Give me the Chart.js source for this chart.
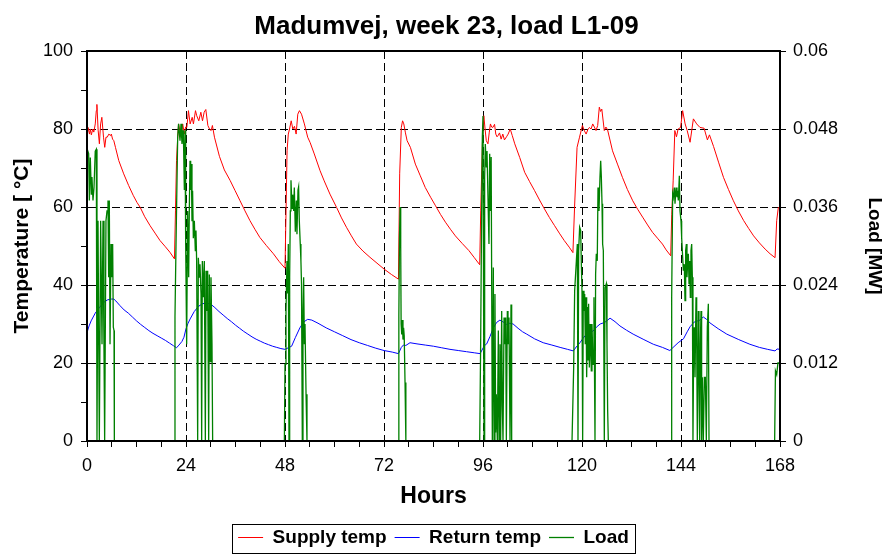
<!DOCTYPE html>
<html>
<head>
<meta charset="utf-8">
<script src="https://cdn.jsdelivr.net/npm/chart.js@4.4.1/dist/chart.umd.min.js"></script>
<style>
  body { margin: 0; background: #fff; }
  #wrap { width: 893px; height: 557px; }
</style>
</head>
<body>
<div id="wrap"><canvas id="chart"></canvas></div>
<script>
// supply temperature (hours, degC)
const supplyHours = [
  0, 0.25, 0.6, 0.8, 1.05, 1.4, 1.65, 2.0, 2.25, 2.4, 2.7, 3.0, 3.3, 3.6, 4.0, 4.3, 4.6, 4.9, 5.3, 5.7, 5.9, 6.2, 6.5, 6.9, 7.7, 8.9, 10.1, 11.2, 12.1, 12.9, 14, 15.3, 16.5, 17.7, 19, 20.1, 21.2,
  21.45, 21.7, 22.0, 22.2, 22.5, 22.8, 23.2, 23.6, 23.9, 24.2, 24.6, 25.0, 25.5, 25.8, 26.3, 26.6, 27.1, 27.6, 28.0, 28.4, 28.8, 29.3, 29.7, 30.1, 30.4, 30.9, 32.1, 33.3, 34.7, 35.9, 37.1, 38.3, 39.5, 40.7, 41.9, 43.5, 45.2, 46.6, 48.0,
  48.25, 48.5, 48.8, 49.1, 49.5, 49.9, 50.3, 50.7, 51.1, 51.5, 52.0, 52.7, 53.5, 54.1, 55.1, 56.5, 57.5, 58.9, 60.5, 61.7, 62.9, 64.1, 65.3, 66.9, 68.6, 70.3, 72.0, 73.8, 75.5,
  75.8, 76.2, 76.5, 76.8, 77.2, 77.6, 78.4, 79.6, 80.8, 82.0, 83.3, 84.5, 85.7, 86.9, 88.1, 89.3, 91.0, 92.6, 93.9, 95.2,
  95.45, 95.85, 96.2, 96.5, 96.8, 97.2, 97.5, 97.8, 98.1, 98.4, 98.8, 99.1, 99.4, 99.7, 100.0, 100.4, 100.8, 101.2, 101.7, 102.1, 102.6, 103.1, 103.7, 104.9, 106.1, 107.3, 108.5, 109.7, 110.9, 112.1, 113.3, 114.5, 115.7, 116.9, 117.8,
  118.2, 118.8, 119.4, 120.1, 120.6, 121.0, 121.4, 121.8, 122.2, 122.6, 123.0, 123.4, 123.8, 124.2, 124.5, 124.8, 125.4, 125.8, 126.2, 127.4, 128.6, 129.8, 131.0, 132.3, 133.5, 134.7, 135.9, 137.1, 138.3, 139.5, 140.4, 141.5,
  141.75, 142.1, 142.5, 142.9, 143.3, 143.9, 144.4, 145.0, 145.5, 146.2, 147.0, 147.8, 148.6, 149.6, 150.4, 150.9, 151.9, 153.1, 154.3, 155.5, 156.7, 157.9, 159.2, 160.4, 161.6, 163, 164.4, 165.6, 166.8, 167.2, 167.6, 168
];
const supplyTemp = [
  77.9, 80.4, 78.7, 80, 78.5, 80, 79.2, 81.3, 84.7, 86.3, 79.7, 76.2, 81.3, 83, 77.9, 75.3, 77.9, 77.9, 78.7, 78.3, 78.7, 77.4, 77, 75.3, 71.9, 68.5, 65.5, 63, 61.2, 59.9, 57.5, 55.2, 53.3, 51.4, 49.8, 48.4, 46.7,
  59, 71.9, 78, 81.3, 79.5, 77.9, 81.3, 78.7, 80.5, 80.4, 84.7, 81.3, 83, 81.3, 84.7, 83.4, 82.1, 84.3, 82.1, 84.3, 85, 80.9, 80, 79.6, 80.9, 77.9, 73, 69.5, 66.8, 64.2, 61.6, 59, 56.5, 54.3, 52.2, 50.1, 48, 46, 44.3,
  59, 74.4, 78.7, 80, 82.1, 80, 80.7, 78.7, 83.8, 84.7, 83.8, 81.3, 77.9, 76.5, 73.6, 69.3, 66.7, 63.3, 59.9, 57.2, 54.8, 52.6, 50.5, 48.7, 47.1, 45.6, 44.1, 42.7, 41.5,
  68.5, 80.4, 82.1, 81.3, 79, 77, 75.3, 71, 68, 65, 62.5, 60.3, 58.1, 56.1, 54.3, 52.6, 50.6, 48.8, 47, 45.2,
  59, 76.2, 83.4, 80, 77, 76.2, 79, 81.3, 80.5, 80.4, 81.2, 78.7, 78, 78.4, 79, 77.4, 78.7, 77.2, 78, 78.7, 80, 78.3, 76.2, 72.7, 68.9, 66.5, 64.2, 61.8, 59.5, 57.3, 55.3, 53.3, 51.4, 49.7, 48.3,
  60, 75.3, 77.9, 80.9, 79.5, 78.7, 79.8, 80.4, 80, 81.3, 80.5, 79.6, 80.9, 85.6, 84.5, 85.1, 79.6, 80.5, 79.8, 74.4, 71, 67.6, 64.5, 61.6, 59.4, 57.4, 55.4, 53.5, 52, 50.5, 49, 47.5,
  58, 66.7, 79.6, 78, 80, 80.4, 84.7, 81.3, 79.6, 76.6, 82.6, 81.3, 80.4, 80.2, 77.2, 78.5, 75.5, 71.5, 67.6, 64.5, 61.6, 59, 56.5, 54.5, 52.6, 50.8, 49.2, 48, 47, 56.5, 59.9, 59.5
];

// return temperature, blue curve (hours, degC)
const returnHours = [
  0, 0.5, 1, 1.5, 2, 3, 4, 5, 6, 6.5, 7, 8, 9, 10, 11, 12, 13, 14, 15, 16, 17, 18, 19, 20, 21, 21.7, 22.3, 23, 23.5,
  24, 24.5, 25, 26, 27, 28, 29, 30, 31, 32, 33, 34, 35, 36, 37, 38, 39, 40, 41, 42, 43, 44, 45, 46, 47, 48,
  49, 49.6, 50.5, 51.6, 52.5, 53.5, 54.5, 56, 58, 60, 62, 64, 66, 68, 70, 72, 74, 75.5,
  76.2, 76.7, 77.3, 78.3, 80, 82, 84, 86, 88, 90, 92, 94, 95.3,
  96.3, 96.9, 97.7, 98.5, 99.3, 100.1, 100.9, 101.7, 102.5, 103.3, 104.5, 105.6, 106.6, 108.5, 110.6, 112.7, 114.7, 116.5, 117.9,
  118.6, 119.5, 120.3, 121.1, 122.7, 123.5, 124.4, 125.5, 126.8, 128, 129.2, 130.8, 132.4, 135, 137.3, 139.5, 141.3,
  142.3, 143.3, 144.6, 145.5, 146.2, 147.2, 148.6, 149.4, 150.2, 151, 153, 155.1, 158, 160.7, 163, 165, 166.8, 167.3, 168
];
const returnTemp = [
  27.8, 29.5, 30.8, 31.8, 32.8, 34.2, 35.5, 36.2, 36.4, 36.4, 35.9, 34.7, 33.6, 32.8, 31.8, 30.8, 29.9, 29.1, 28.3, 27.6, 27, 26.4, 25.8, 25.1, 24.4, 23.9, 24.6, 25.5, 26.6,
  28.8, 30.2, 31.3, 33.2, 34.5, 35.2, 35.4, 35.1, 34.2, 33.2, 32.3, 31.4, 30.6, 29.7, 28.9, 28.1, 27.4, 26.7, 26.1, 25.6, 25.1, 24.7, 24.3, 24, 23.7, 23.5,
  24, 24.3, 26.5, 29, 30.5, 31.2, 31, 30.2, 29, 28, 27, 26, 25.2, 24.5, 23.8, 23.2, 22.8, 22.4,
  24, 24.6, 24.5, 25.2, 24.9, 24.6, 24.3, 23.9, 23.5, 23.2, 22.9, 22.6, 22.4,
  24.4, 24.9, 26.8, 29, 30.4, 31, 30.5, 29.9, 30.2, 30, 28.9, 28, 27.4, 26.2, 25.2, 24.6, 24, 23.5, 23.1,
  24.1, 25.2, 26.4, 27.4, 28.2, 29.2, 30, 30.4, 31.5, 30.6, 29.5, 28.4, 27.4, 26, 24.8, 24, 23.2,
  24.2, 25.2, 26.2, 28, 29.3, 30.5, 31, 31.8, 31.2, 30.3, 28.8, 27.4, 26, 24.8, 24, 23.5, 23.1, 23.6, 23.5
];

// load, green curve (hours, MW) - right axis
const loadHours = [
  0, 0.4, 0.57, 0.8, 1.05, 1.2, 1.45, 1.7, 2.0, 2.26, 2.42, 2.67, 2.99, 3.31, 3.64, 3.88, 4.12, 4.28, 4.6, 4.85, 5.09, 5.25, 5.41, 5.58, 5.82, 6.06, 6.22, 6.38, 6.55, 6.63,
  21.17, 21.33, 21.58, 21.98, 22.2, 22.55, 22.79, 23.03, 23.35, 23.6, 23.76, 23.92, 24.16, 24.4, 24.65, 24.8, 24.97, 25.13, 25.29, 25.45, 25.6, 25.78, 26.02, 26.26, 26.42, 26.58, 26.83, 26.99, 27.23, 27.39, 27.64, 27.8, 27.96, 28.2, 28.44, 28.69, 28.85, 29.09, 29.25, 29.5, 29.66, 29.9, 30.06, 30.3, 30.46,
  47.85, 48.0, 48.24, 48.48, 48.65, 48.8, 48.97, 49.13, 49.29, 49.45, 49.7, 49.86, 50.1, 50.26, 50.5, 50.75, 50.9, 51.15, 51.3, 51.47, 51.7, 51.86, 52.0, 52.2, 52.36, 52.52, 52.7, 52.85, 53.1, 53.33,
  75.4, 75.6, 75.75, 75.9, 76.05, 76.15, 76.3, 76.45, 76.6, 76.75, 76.9, 77.1, 77.3,
  95.2, 95.43, 95.67, 95.84, 96.0, 96.25, 96.4, 96.56, 96.8, 96.97, 97.21, 97.45, 97.62, 97.82, 97.98, 98.26, 98.5, 98.67, 98.9, 99.07, 99.23, 99.47, 99.72, 99.88, 100.12, 100.28, 100.53, 100.69, 100.85, 101.1, 101.33, 101.5, 101.66, 101.9, 102.06, 102.3, 102.55, 102.79, 102.95,
  117.58, 117.98, 118.22, 118.63, 118.87, 119.03, 119.19, 119.43, 119.68, 119.84, 120.0, 120.16, 120.32, 120.48, 120.65, 120.8, 120.97, 121.13, 121.3, 121.45, 121.6, 121.78, 121.94, 122.1, 122.26, 122.42, 122.67, 122.9, 123.15, 123.3, 123.47, 123.7, 123.88, 124.12, 124.36, 124.53, 124.69, 124.85, 125.0, 125.17, 125.41, 125.58, 125.9, 126.06, 126.22, 126.38,
  141.58, 141.74, 141.98, 142.14, 142.38, 142.55, 142.79, 143.03, 143.19, 143.35, 143.6, 143.76, 144.0, 144.16, 144.32, 144.57, 144.8, 144.97, 145.13, 145.3, 145.45, 145.6, 145.78, 145.94, 146.1, 146.26, 146.42, 146.59, 146.75, 146.9, 147.07, 147.23, 147.4, 147.64, 147.8, 147.96, 148.2, 148.36, 148.53, 148.69, 148.85, 149.0, 149.17, 149.41, 149.66, 149.9, 150.14, 150.38, 150.63, 150.79,
  166.7, 166.9, 167.2, 167.5, 168
];
const loadMW = [
  0.045, 0.0442, 0.037, 0.0436, 0.038, 0.0406, 0.037, 0.039, 0.0446, 0.0449, 0, 0.0339, 0, 0.0339, 0.0149, 0.0339, 0.0139, 0, 0.0339, 0.0354, 0.037, 0.0252, 0.037, 0.0149, 0.0303, 0.0252, 0.0303, 0.0175, 0.017, 0,
  0, 0.0192, 0.0303, 0.0467, 0.0488, 0.0462, 0.0488, 0.0457, 0.0478, 0.0386, 0.0478, 0.0303, 0.0149, 0.0354, 0.0252, 0.0354, 0.0431, 0.0386, 0.0426, 0.0338, 0.0385, 0.0312, 0.0339, 0.0293, 0.0324, 0.0277, 0, 0.0282, 0.0252, 0.0272, 0.0226, 0, 0.0277, 0.0221, 0.0277, 0, 0.0262, 0.02, 0.0262, 0, 0.0256, 0.0122, 0.0252, 0.015, 0,
  0, 0.0118, 0.02, 0.0277, 0.0227, 0.0303, 0, 0.0252, 0.0354, 0.0401, 0.0358, 0.0379, 0.0354, 0.039, 0.0322, 0.037, 0.0318, 0.0386, 0.0391, 0.0339, 0.0303, 0.0277, 0.0242, 0, 0.02, 0.0252, 0.0149, 0.018, 0.0072, 0,
  0, 0.0192, 0.0312, 0.036, 0.03, 0.018, 0.0164, 0.0186, 0.0156, 0.0174, 0.0162, 0.009, 0,
  0, 0.0149, 0.0354, 0.0467, 0.05, 0, 0.0405, 0.0457, 0.0421, 0.0446, 0.0446, 0.0303, 0.0442, 0.0354, 0.0437, 0, 0.0267, 0, 0.0226, 0.0013, 0.0072, 0, 0.017, 0, 0.0149, 0, 0.02, 0.0054, 0, 0.019, 0.0149, 0.019, 0, 0.02, 0.0149, 0.019, 0, 0.021, 0,
  0, 0.0113, 0.0231, 0.0277, 0.0303, 0, 0.0293, 0.0329, 0.0324, 0.0272, 0.0231, 0, 0.0231, 0.02, 0.0226, 0.0149, 0.0221, 0.0098, 0.0206, 0.0124, 0.0211, 0.0113, 0.018, 0.0139, 0.0108, 0.018, 0.0118, 0.0221, 0, 0.0257, 0.0288, 0.0277, 0.039, 0.0354, 0.0406, 0.0431, 0.0406, 0.0365, 0.0303, 0.0293, 0, 0.0236, 0.0242, 0.0149, 0.0047, 0,
  0, 0.0221, 0.038, 0.0375, 0.039, 0.0365, 0.039, 0.0375, 0.0385, 0.037, 0.0408, 0.0354, 0.0339, 0.0313, 0.0293, 0.0262, 0.0272, 0.0216, 0.0293, 0.0303, 0.0252, 0.0272, 0.0288, 0.0242, 0.0277, 0.0221, 0.0293, 0.0303, 0.0252, 0, 0.0149, 0.0175, 0.0098, 0.0221, 0.016, 0, 0.02, 0.0098, 0, 0.0149, 0.02, 0, 0.0098, 0, 0.0098, 0.0098, 0, 0.0175, 0.0211, 0,
  0, 0.0108, 0.0102, 0.012, 0.012
];

const hourLabels = [0, 24, 48, 72, 96, 120, 144, 168];
const tempLabels = [0, 20, 40, 60, 80, 100];

function pairs(xs, ys) {
    return xs.map((x, i) => ({x: x, y: ys[i]}));
}

const FONT = "'Liberation Sans', Arial, sans-serif";
const dash = [8, 4];

// black frame round the plot area and the box round the legend
const framePlugin = {
    id: "frame",
    afterDraw(chart) {
        const ctx = chart.ctx;
        const a = chart.chartArea;
        ctx.save();
        ctx.strokeStyle = "#000";
        ctx.lineWidth = 2;
        ctx.strokeRect(a.left, a.top, a.right - a.left, a.bottom - a.top);
        const boxes = chart.legend.legendHitBoxes;
        if (boxes && boxes.length) {
            const l = Math.min(...boxes.map(b => b.left)) - 6;
            const r = Math.max(...boxes.map(b => b.left + b.width)) + 6;
            const t = boxes[0].top - 4;
            const h = boxes[0].height + 10;
            ctx.lineWidth = 1;
            ctx.strokeRect(Math.round(l) + 0.5, Math.round(t) + 0.5, Math.round(r - l), Math.round(h));
        }
        ctx.restore();
    }
};

const canvas = document.querySelector("#chart");
new Chart(canvas, {
    type: "line",
    data: {
        datasets: [
            {
                label: "Supply temp",
                data: pairs(supplyHours, supplyTemp),
                borderColor: "#ff0000",
                backgroundColor: "#ff0000",
                borderWidth: 1,
                yAxisID: "y",
                order: 2
            },
            {
                label: "Return temp",
                data: pairs(returnHours, returnTemp),
                borderColor: "#0000ff",
                backgroundColor: "#0000ff",
                borderWidth: 1,
                yAxisID: "y",
                order: 1
            },
            {
                label: "Load",
                data: pairs(loadHours, loadMW),
                borderColor: "#008000",
                backgroundColor: "#008000",
                borderWidth: 1.3,
                yAxisID: "y2",
                order: 0
            }
        ]
    },
    options: {
        responsive: true,
        maintainAspectRatio: false,
        animation: false,
        elements: {
            point: { radius: 0 },
            line: { tension: 0 }
        },
        layout: { padding: 0 },
        plugins: {
            title: {
                display: true,
                text: "Madumvej, week 23, load L1-09",
                color: "#000",
                font: { family: FONT, size: 26, weight: "bold" },
                padding: { top: 11, bottom: 8.8 }
            },
            legend: {
                position: "bottom",
                fullSize: false,
                labels: {
                    color: "#000",
                    font: { family: FONT, size: 19, weight: "bold" },
                    usePointStyle: true,
                    pointStyle: "line",
                    pointStyleWidth: 25,
                    padding: 8,
                    sort: (a, b) => a.datasetIndex - b.datasetIndex
                }
            },
            tooltip: { enabled: false }
        },
        scales: {
            x: {
                type: "linear",
                min: 0,
                max: 168,
                afterFit(scale) { scale.height = 79; },
                ticks: {
                    stepSize: 6,
                    autoSkip: false,
                    maxRotation: 0,
                    color: "#000",
                    padding: 8,
                    font: { family: FONT, size: 18 },
                    callback: v => hourLabels.includes(v) ? String(v) : ""
                },
                grid: {
                    color: c => (c.tick && c.tick.value % 24 === 0 && c.tick.value > 0 && c.tick.value < 168) ? "#000" : "rgba(0,0,0,0)",
                    tickColor: "#000",
                    tickLength: 6,
                    lineWidth: 1
                },
                border: { color: "#000", width: 2, dash: dash },
                title: {
                    display: true,
                    text: "Hours",
                    color: "#000",
                    font: { family: FONT, size: 23, weight: "bold" },
                    padding: { top: 0, bottom: 10 }
                }
            },
            y: {
                position: "left",
                min: 0,
                max: 100,
                afterFit(scale) { scale.width = 87; },
                ticks: {
                    stepSize: 10,
                    color: "#000",
                    padding: 8,
                    font: { family: FONT, size: 18 },
                    callback: v => tempLabels.includes(v) ? String(v) : ""
                },
                grid: {
                    color: c => (c.tick && c.tick.value % 20 === 0 && c.tick.value > 0 && c.tick.value < 100) ? "#000" : "rgba(0,0,0,0)",
                    tickColor: "#000",
                    tickLength: 6,
                    lineWidth: 1
                },
                border: { color: "#000", width: 2, dash: dash },
                title: {
                    display: true,
                    text: "Temperature [ °C]",
                    color: "#000",
                    font: { family: FONT, size: 21, weight: "bold" },
                    padding: { top: 10, bottom: 0 }
                }
            },
            y2: {
                position: "right",
                min: 0,
                max: 0.06,
                afterFit(scale) { scale.width = 113; },
                ticks: {
                    stepSize: 0.012,
                    color: "#000",
                    padding: 7,
                    font: { family: FONT, size: 18 },
                    callback: v => v === 0 ? "0" : String(+v.toFixed(3))
                },
                grid: {
                    drawOnChartArea: false,
                    tickColor: "#000",
                    tickLength: 6
                },
                border: { color: "#000", width: 2 },
                title: {
                    display: true,
                    text: "Load [MW]",
                    color: "#000",
                    font: { family: FONT, size: 19, weight: "bold" },
                    padding: { top: 7, bottom: 0 }
                }
            }
        }
    },
    plugins: [framePlugin]
});
</script>
</body>
</html>
